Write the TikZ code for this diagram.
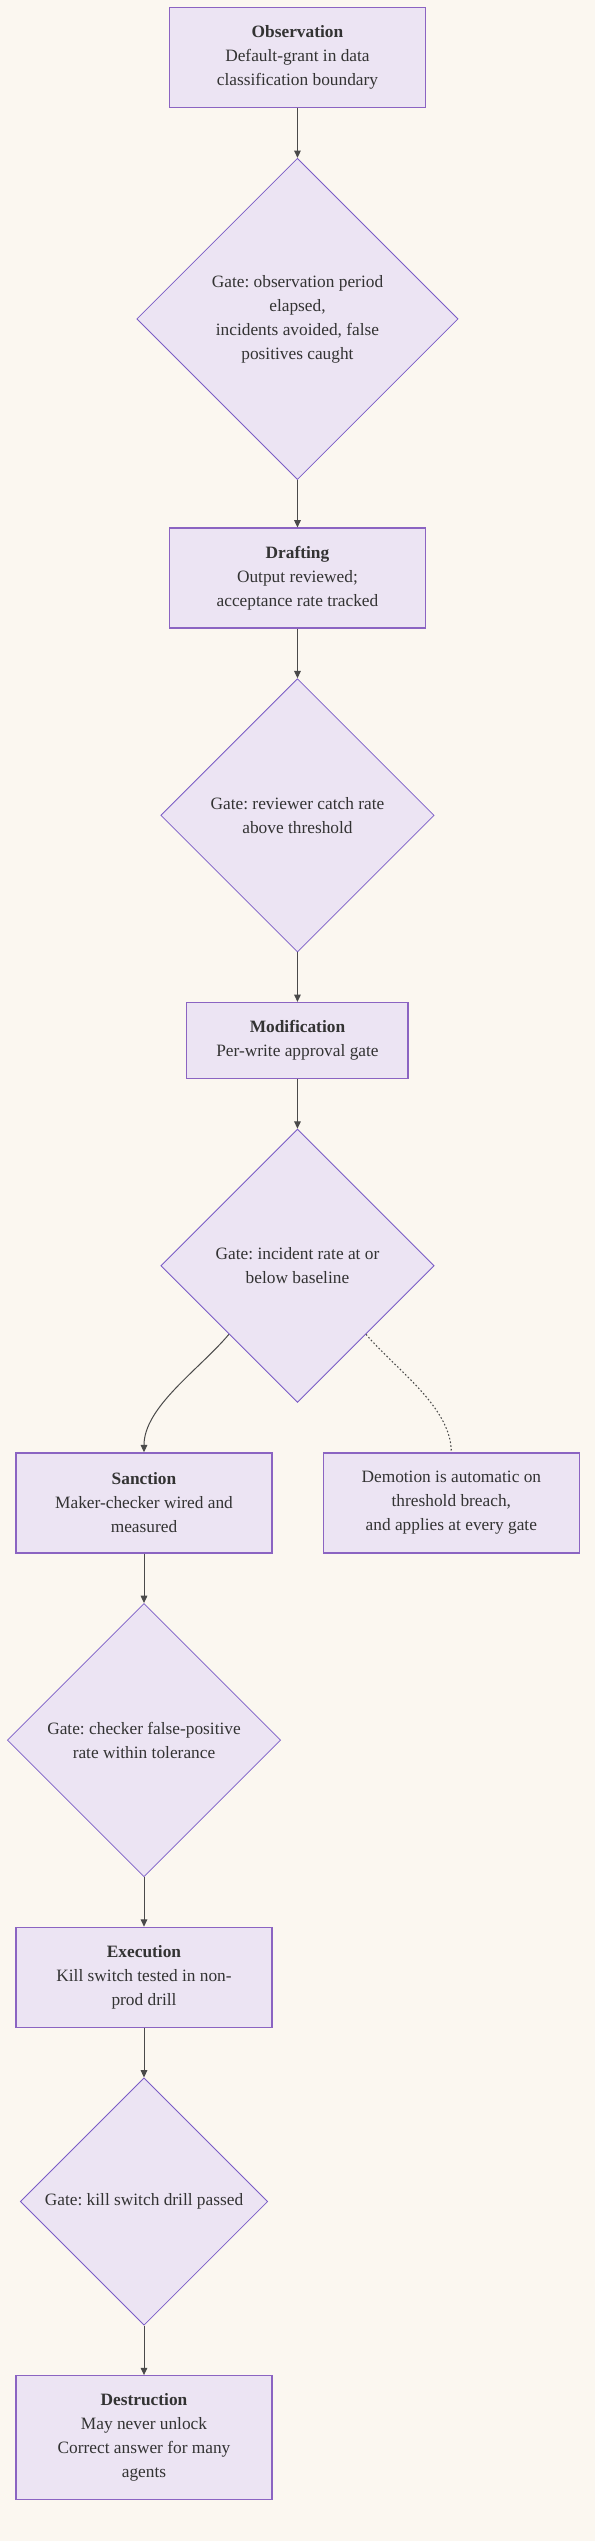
\documentclass[tikz,border=0pt]{standalone}
\usepackage{fontspec}
\setmainfont{Liberation Serif}
\frenchspacing
\usetikzlibrary{positioning,shapes.geometric,arrows.meta}
\definecolor{paper}{HTML}{FBF7F0}
\definecolor{lav}{HTML}{ECE4F3}
\definecolor{boxline}{HTML}{8B64C2}
\definecolor{gateline}{HTML}{7A5CC6}
\definecolor{wire}{HTML}{4A4A4A}
\definecolor{ink}{HTML}{333333}
\begin{document}
\begin{tikzpicture}[node distance=37.1pt,>={Triangle[length=5.5pt,width=5pt]},
    font=\fontsize{13pt}{18pt}\selectfont,
    stagebox/.style={rectangle,draw=boxline,line width=1pt,fill=lav,align=center,text=ink,
      minimum width=192pt,minimum height=75pt,inner sep=0pt},
    gatenode/.style={diamond,aspect=1,draw=gateline,line width=0.6pt,fill=lav,align=center,text=ink,inner sep=0pt},
    link/.style={->,draw=wire,line width=0.75pt}]
    \fill[paper] (0,0) rectangle (446.25pt,-1905.75pt);
    \useasboundingbox (0,0) rectangle (446.25pt,-1905.75pt);
    % stages and gates
    \node[stagebox] (obs) at (223.1pt,-43.3pt) {\textbf{Observation}\\Default-grant in data\\classification boundary};
    \node[gatenode,minimum size=241pt,below=of obs] (gtObs) {Gate: observation period\\elapsed,\\incidents avoided, false\\positives caught};
    \node[stagebox,below=35.6pt of gtObs] (draft) {\textbf{Drafting}\\Output reviewed;\\acceptance rate tracked};
    \node[gatenode,minimum size=205pt,below=of draft] (gtDraft) {Gate: reviewer catch rate\\above threshold};
    \node[stagebox,minimum width=166pt,minimum height=57pt,below=of gtDraft] (modif) {\textbf{Modification}\\Per-write approval gate};
    \node[gatenode,minimum size=205pt,below=of modif] (gtModif) {Gate: incident rate at or\\below baseline};
    \node[stagebox,below=of gtModif,xshift=-115.1pt] (sanct) {\textbf{Sanction}\\Maker-checker wired and\\measured};
    \node[stagebox,right=37.5pt of sanct] (demote) {Demotion is automatic on\\threshold breach,\\and applies at every gate};
    \node[gatenode,minimum size=205pt,below=of sanct] (gtSanct) {Gate: checker false-positive\\rate within tolerance};
    \node[stagebox,below=of gtSanct] (exec) {\textbf{Execution}\\Kill switch tested in non-\\prod drill};
    \node[gatenode,minimum size=185.5pt,below=of exec] (gtExec) {Gate: kill switch drill passed};
    \node[stagebox,minimum height=93pt,below=of gtExec] (destr) {\textbf{Destruction}\\May never unlock\\Correct answer for many\\agents};
    % arrows
    \draw[link] (obs) -- (gtObs);
    \draw[link] (gtObs) -- (draft);
    \draw[link] (draft) -- (gtDraft);
    \draw[link] (gtDraft) -- (modif);
    \draw[link] (modif) -- (gtModif);
    \draw[link] (gtModif.south west) to[out=-130,in=90,looseness=0.8] (sanct.north);
    \draw[wire,line width=0.8pt,dash pattern=on 1.2pt off 1.6pt] (gtModif.south east) to[out=-50,in=90,looseness=0.8] (demote.north);
    \draw[link] (sanct) -- (gtSanct);
    \draw[link] (gtSanct) -- (exec);
    \draw[link] (exec) -- (gtExec);
    \draw[link] (gtExec) -- (destr);
\end{tikzpicture}
\end{document}
